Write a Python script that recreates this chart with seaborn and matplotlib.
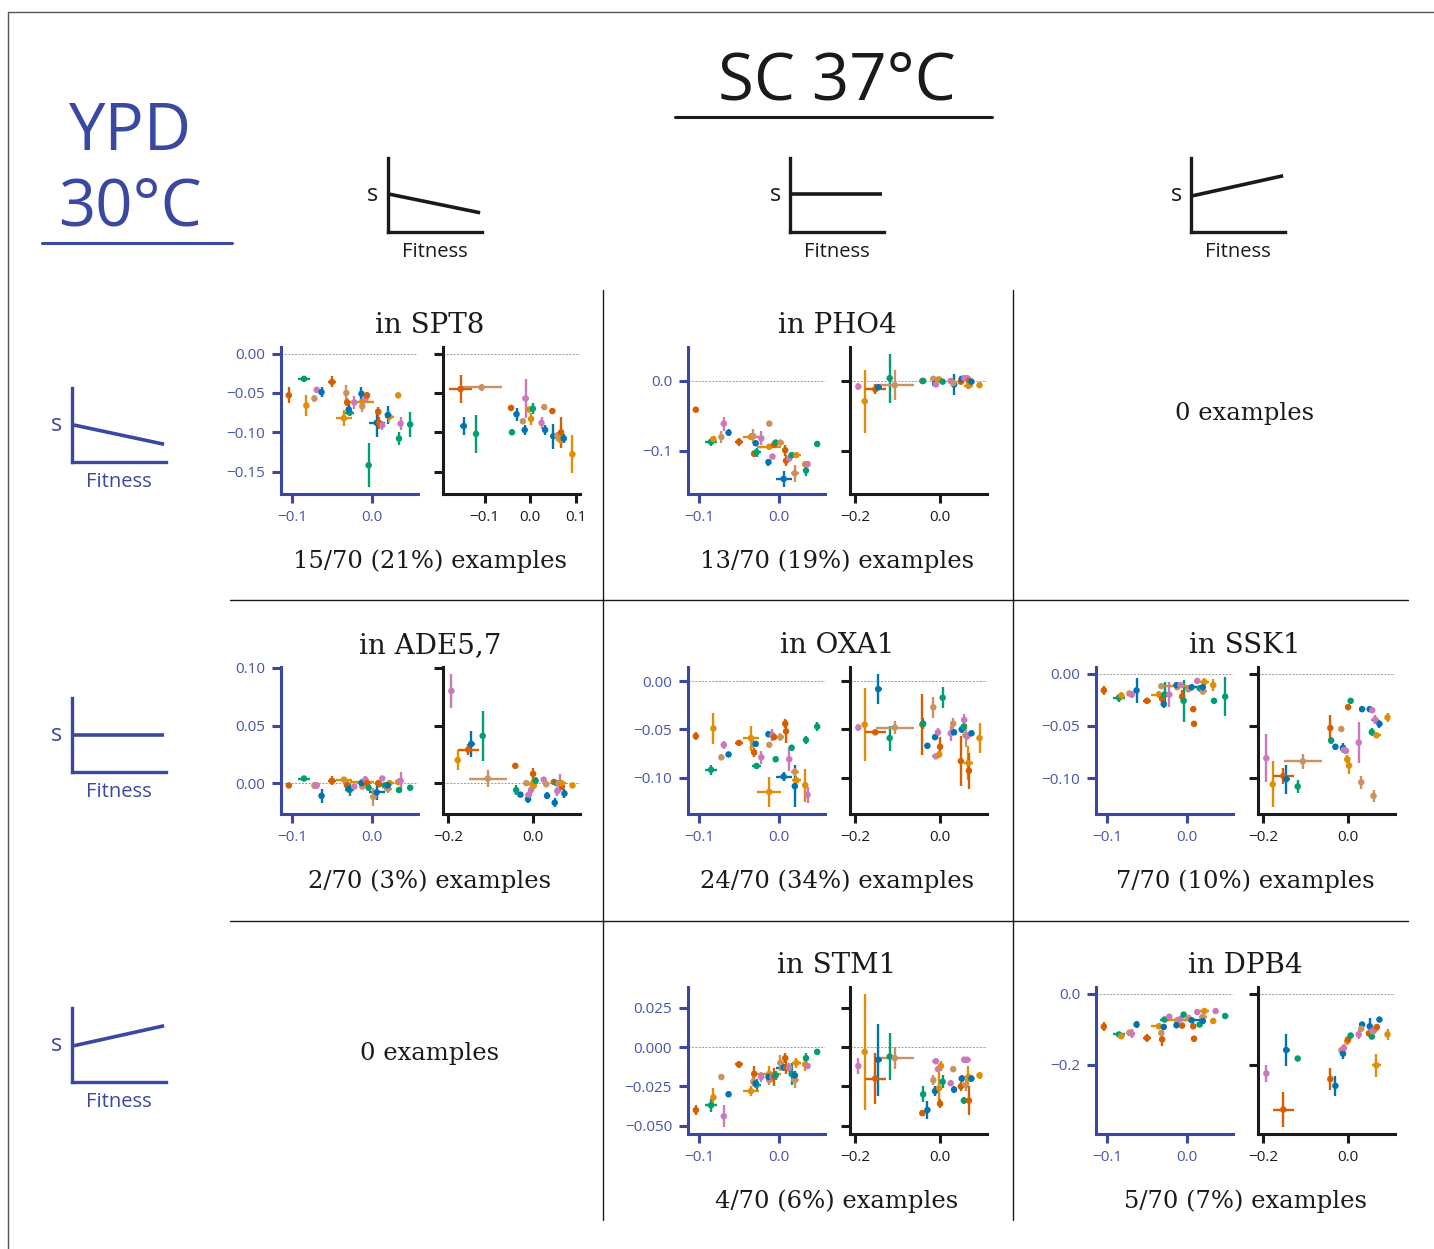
import numpy as np
import pandas as pd
import matplotlib
matplotlib.use("Agg")
import matplotlib.pyplot as plt
import seaborn as sns
from matplotlib.lines import Line2D
from matplotlib.ticker import MultipleLocator

nan = np.nan

# mutants in YPD 30C (left small plots): fitness, error, colour code
ypd_fitness = [-0.104, -0.085, -0.082, -0.072, -0.069, -0.063, -0.050, -0.035, -0.032, -0.031, -0.028,
               -0.029, -0.022, -0.012, -0.012, -0.013, -0.008, -0.006, -0.004, 0.002, 0.006, 0.008,
               0.009, 0.013, 0.016, 0.020, 0.022, 0.020, 0.033, 0.034, 0.036, 0.048]
ypd_fitness_err = [0.002, 0.008, 0.002, 0.003, 0.003, 0.002, 0.005, 0.010, 0.003, 0.002, 0.006,
                   0.002, 0.003, 0.015, 0.002, 0.002, 0.003, 0.002, 0.002, 0.004, 0.010, 0.003,
                   0.002, 0.003, 0.002, 0.005, 0.006, 0.003, 0.003, 0.003, 0.003, 0.002]
ypd_mutant = list("rgotpbrotrgbpotbprgtbrrpgtobogpg")

# mutants in SC 37C (right small plots)
sc_fitness = [-0.193, -0.178, -0.153, -0.146, -0.119, -0.107, -0.042, -0.040, -0.030, -0.016,
              -0.012, -0.010, -0.005, -0.002, 0.000, 0.002, 0.006, 0.025, 0.033, 0.031,
              0.049, 0.051, 0.056, 0.057, 0.060, 0.064, 0.068, 0.067, 0.074, 0.093]
sc_fitness_err = [0.005, 0.003, 0.025, 0.008, 0.003, 0.045, 0.005, 0.003, 0.003, 0.003,
                  0.003, 0.008, 0.003, 0.003, 0.008, 0.004, 0.003, 0.003, 0.003, 0.003,
                  0.003, 0.003, 0.003, 0.003, 0.005, 0.010, 0.002, 0.010, 0.002, 0.003]
sc_mutant = list("porbgtrgbtbpporogpbtrbgptprobo")

# s values per lineage (ypd = left plot, sc = right plot)
spt8_s_ypd = [-0.053, -0.032, -0.066, -0.057, -0.046, -0.049, -0.036, -0.082, -0.050, -0.062, -0.075,
              -0.071, -0.062, -0.061, -0.067, -0.051, -0.057, -0.053, -0.142, nan, -0.088, -0.074,
              -0.088, -0.091, nan, nan, -0.080, -0.078, -0.053, -0.108, -0.089, -0.090]
spt8_e_ypd = [0.010, 0.003, 0.013, 0.005, 0.004, 0.006, 0.007, 0.010, 0.010, 0.005, 0.004,
              0.007, 0.008, 0.003, 0.007, 0.008, 0.006, 0.004, 0.028, nan, 0.018, 0.006,
              0.008, 0.006, nan, nan, 0.007, 0.012, 0.003, 0.008, 0.008, 0.016]
spt8_s_sc = [nan, nan, -0.045, -0.092, -0.102, -0.043, -0.069, -0.100, -0.077, -0.086,
             -0.097, -0.057, nan, -0.071, nan, -0.083, -0.070, -0.088, -0.097, -0.068,
             -0.073, -0.105, nan, nan, -0.105, nan, -0.100, -0.110, -0.108, -0.128]
spt8_e_sc = [nan, nan, 0.018, 0.012, 0.024, 0.004, 0.004, 0.004, 0.008, 0.004,
             0.006, 0.025, nan, 0.003, nan, 0.008, 0.007, 0.008, 0.006, 0.004,
             0.004, 0.016, nan, nan, 0.006, nan, 0.020, 0.008, 0.006, 0.024]

pho4_s_ypd = [-0.041, -0.087, -0.083, -0.080, -0.061, -0.074, -0.087, -0.080, -0.079, -0.104, -0.102,
              -0.089, -0.082, -0.094, -0.061, -0.116, -0.108, -0.091, -0.088, -0.088, -0.140, -0.099,
              -0.114, -0.111, -0.106, -0.132, -0.106, nan, -0.119, -0.128, -0.119, -0.090]
pho4_e_ypd = [0.004, 0.006, 0.005, 0.008, 0.010, 0.005, 0.006, 0.005, 0.010, 0.004, 0.006,
              0.003, 0.010, 0.003, 0.004, 0.005, 0.004, 0.003, 0.004, 0.003, 0.012, 0.008,
              0.008, 0.004, 0.004, 0.012, 0.003, nan, 0.004, 0.008, 0.004, 0.003]
pho4_s_sc = [-0.008, -0.029, -0.012, -0.009, 0.004, -0.006, 0.000, 0.000, nan, 0.003,
             -0.004, -0.005, 0.002, 0.002, nan, nan, -0.001, 0.000, -0.005, -0.003,
             -0.001, 0.003, nan, 0.004, nan, 0.004, 0.000, -0.007, -0.001, -0.006]
pho4_e_sc = [0.005, 0.045, 0.007, 0.003, 0.035, 0.021, 0.002, 0.002, nan, 0.002,
             0.003, 0.003, 0.002, 0.002, nan, nan, 0.002, 0.002, 0.015, 0.002,
             0.002, 0.002, nan, 0.002, nan, 0.002, 0.002, 0.002, 0.002, 0.002]

ade_s_ypd = [-0.002, 0.004, nan, -0.002, -0.002, -0.011, 0.002, 0.003, 0.000, -0.002, -0.006,
             -0.005, -0.003, 0.001, -0.003, 0.000, 0.003, 0.000, -0.004, -0.012, -0.008, 0.000,
             -0.001, 0.004, -0.002, -0.005, 0.000, -0.002, 0.001, -0.006, 0.002, -0.004]
ade_e_ypd = [0.002, 0.002, nan, 0.003, 0.003, 0.006, 0.004, 0.002, 0.002, 0.003, 0.005,
             0.003, 0.002, 0.002, 0.002, 0.002, 0.003, 0.002, 0.003, 0.008, 0.007, 0.002,
             0.002, 0.002, 0.002, 0.004, 0.002, 0.002, 0.002, 0.003, 0.008, 0.002]
ade_s_sc = [0.080, 0.020, 0.029, 0.034, 0.041, 0.004, 0.015, -0.006, -0.010, 0.000,
            -0.014, -0.010, -0.006, -0.001, 0.008, -0.002, 0.002, 0.003, -0.011, -0.001,
            0.001, -0.017, 0.000, -0.007, 0.000, 0.000, -0.003, 0.000, -0.009, -0.002]
ade_e_sc = [0.015, 0.009, 0.005, 0.011, 0.022, 0.007, 0.002, 0.004, 0.002, 0.002,
            0.003, 0.002, 0.003, 0.004, 0.005, 0.003, 0.003, 0.002, 0.003, 0.002,
            0.002, 0.004, 0.002, 0.004, 0.002, 0.008, 0.003, 0.002, 0.004, 0.002]

oxa1_s_ypd = [-0.057, -0.092, -0.049, -0.079, -0.066, -0.076, -0.064, -0.059, -0.065, -0.074, -0.088,
              -0.065, -0.079, -0.115, -0.066, -0.055, -0.056, -0.058, -0.081, -0.058, -0.099, -0.044,
              -0.052, -0.081, -0.069, -0.094, -0.103, -0.109, -0.108, -0.061, -0.118, -0.047]
oxa1_e_ypd = [0.004, 0.005, 0.016, 0.003, 0.004, 0.003, 0.003, 0.013, 0.004, 0.005, 0.003,
              0.003, 0.007, 0.016, 0.002, 0.003, 0.006, 0.003, 0.003, 0.004, 0.005, 0.005,
              0.012, 0.012, 0.003, 0.004, 0.005, 0.022, 0.017, 0.004, 0.008, 0.005]
oxa1_s_sc = [-0.048, -0.045, -0.053, -0.008, -0.059, -0.048, -0.045, -0.044, -0.067, -0.027,
             -0.058, -0.078, -0.053, -0.076, -0.068, nan, -0.017, -0.054, -0.053, -0.044,
             -0.083, -0.050, -0.047, -0.040, -0.056, -0.057, -0.093, -0.085, -0.054, -0.059]
oxa1_e_sc = [0.004, 0.038, 0.002, 0.016, 0.013, 0.007, 0.032, 0.006, 0.003, 0.011,
             0.003, 0.002, 0.004, 0.004, 0.010, nan, 0.011, 0.008, 0.003, 0.006,
             0.026, 0.004, 0.004, 0.006, 0.012, 0.004, 0.019, 0.018, 0.002, 0.016]

ssk1_s_ypd = [-0.016, -0.023, -0.021, -0.019, -0.020, -0.016, -0.026, -0.020, -0.012, -0.024, -0.020,
              -0.029, -0.020, -0.012, -0.013, -0.011, -0.011, -0.022, -0.026, -0.015, -0.013, -0.034,
              -0.048, -0.007, -0.014, -0.017, -0.008, -0.013, -0.011, -0.026, nan, -0.022]
ssk1_e_ypd = [0.004, 0.004, 0.003, 0.002, 0.003, 0.012, 0.002, 0.003, 0.002, 0.003, 0.012,
              0.004, 0.012, 0.002, 0.003, 0.002, 0.002, 0.006, 0.020, 0.003, 0.002, 0.002,
              0.002, 0.002, 0.002, 0.003, 0.004, 0.002, 0.006, 0.003, nan, 0.019]
ssk1_s_sc = [-0.081, -0.106, -0.098, -0.101, -0.108, -0.084, -0.052, -0.064, -0.070, -0.053,
             -0.071, -0.073, -0.074, -0.082, -0.032, -0.088, -0.026, -0.066, -0.034, -0.104,
             nan, -0.034, -0.056, -0.035, -0.117, -0.044, nan, -0.059, -0.048, -0.042]
ssk1_e_sc = [0.023, 0.022, 0.008, 0.014, 0.006, 0.007, 0.012, 0.003, 0.003, 0.002,
             0.005, 0.002, 0.003, 0.004, 0.003, 0.008, 0.003, 0.020, 0.002, 0.006,
             nan, 0.002, 0.004, 0.002, 0.006, 0.004, nan, 0.003, 0.004, 0.004]

stm1_s_ypd = [-0.040, -0.037, -0.032, -0.019, -0.044, -0.030, -0.011, -0.028, -0.022, -0.017, -0.024,
              -0.023, -0.019, -0.017, -0.021, -0.019, -0.019, -0.019, -0.018, -0.010, -0.013, -0.007,
              -0.013, -0.013, -0.017, -0.021, -0.010, -0.018, -0.011, -0.007, -0.012, -0.003]
stm1_e_ypd = [0.003, 0.004, 0.006, 0.002, 0.007, 0.002, 0.002, 0.003, 0.003, 0.005, 0.004,
              0.002, 0.003, 0.005, 0.003, 0.003, 0.003, 0.006, 0.003, 0.005, 0.002, 0.003,
              0.004, 0.003, 0.007, 0.005, 0.003, 0.003, 0.004, 0.003, 0.002, 0.002]
stm1_s_sc = [-0.012, -0.003, -0.020, -0.008, -0.006, -0.007, -0.042, -0.030, -0.040, -0.021,
             -0.028, -0.009, -0.014, -0.026, -0.036, -0.012, -0.022, -0.023, -0.027, -0.014,
             -0.025, -0.020, -0.034, -0.008, -0.024, -0.008, -0.034, -0.019, -0.020, -0.018]
stm1_e_sc = [0.005, 0.037, 0.016, 0.023, 0.015, 0.007, 0.002, 0.005, 0.006, 0.003,
             0.003, 0.002, 0.002, 0.010, 0.003, 0.003, 0.004, 0.002, 0.002, 0.002,
             0.003, 0.002, 0.002, 0.002, 0.004, 0.002, 0.009, 0.007, 0.002, 0.002]

dpb4_s_ypd = [-0.093, -0.115, -0.120, -0.110, -0.113, -0.087, -0.125, -0.092, -0.111, -0.129, -0.073,
              -0.094, -0.065, -0.075, -0.077, -0.089, -0.071, -0.090, -0.059, -0.068, -0.075, -0.092,
              -0.127, -0.052, -0.087, -0.065, -0.049, -0.077, -0.077, nan, -0.049, -0.063]
dpb4_e_ypd = [0.012, 0.008, 0.008, 0.008, 0.012, 0.010, 0.012, 0.008, 0.008, 0.018, 0.006,
              0.008, 0.004, 0.008, 0.006, 0.004, 0.004, 0.008, 0.004, 0.008, 0.004, 0.008,
              0.008, 0.003, 0.004, 0.008, 0.004, 0.008, 0.008, nan, 0.003, 0.008]
dpb4_s_sc = [-0.225, nan, -0.327, -0.159, -0.183, nan, -0.241, nan, -0.260, -0.160,
             -0.169, -0.153, nan, -0.134, -0.129, nan, -0.118, -0.115, -0.087, -0.099,
             -0.112, -0.092, -0.121, -0.106, -0.106, -0.099, -0.094, -0.202, -0.073, -0.115]
dpb4_e_sc = [0.024, nan, 0.050, 0.045, 0.008, nan, 0.030, nan, 0.028, 0.008,
             0.015, 0.010, nan, 0.010, 0.004, nan, 0.006, 0.012, 0.004, 0.004,
             0.005, 0.022, 0.004, 0.008, 0.005, 0.004, 0.005, 0.032, 0.003, 0.015]

panel_titles = ["in SPT8", "in PHO4", "in ADE5,7", "in OXA1", "in SSK1", "in STM1", "in DPB4"]
panel_notes = ["15/70 (21%) examples", "13/70 (19%) examples", "2/70 (3%) examples",
               "24/70 (34%) examples", "7/70 (10%) examples", "4/70 (6%) examples",
               "5/70 (7%) examples"]
panel_data = [(spt8_s_ypd, spt8_e_ypd, spt8_s_sc, spt8_e_sc),
              (pho4_s_ypd, pho4_e_ypd, pho4_s_sc, pho4_e_sc),
              (ade_s_ypd, ade_e_ypd, ade_s_sc, ade_e_sc),
              (oxa1_s_ypd, oxa1_e_ypd, oxa1_s_sc, oxa1_e_sc),
              (ssk1_s_ypd, ssk1_e_ypd, ssk1_s_sc, ssk1_e_sc),
              (stm1_s_ypd, stm1_e_ypd, stm1_s_sc, stm1_e_sc),
              (dpb4_s_ypd, dpb4_e_ypd, dpb4_s_sc, dpb4_e_sc)]
panel_cells = [(0, 0), (0, 1), (1, 0), (1, 1), (1, 2), (2, 1), (2, 2)]
empty_cells = [(0, 2), (2, 0)]
panel_ystep = [0.05, 0.1, 0.05, 0.05, 0.05, 0.025, 0.2]
panel_xstep_sc = [0.1, 0.2, 0.2, 0.2, 0.2, 0.2, 0.2]

# ---- style ----
sns.set_theme(style="ticks")
plt.rcParams["font.family"] = ["Open Sans", "DejaVu Sans"]
cb = sns.color_palette("colorblind")
mut_palette = {"b": cb[0], "o": cb[1], "g": cb[2], "r": cb[3], "p": cb[4], "t": cb[5]}
BLUE = "#3a48a2"
BLUE_TXT = "#4654ab"
INK = "#1a1a1a"
SERIF = "DejaVu Serif"

W, H = 1434, 1249
fig = plt.figure(figsize=(W / 100, H / 100), dpi=100)
fig.patch.set_facecolor("white")


def fx(x):
    return x / W


def fy(y):
    return 1 - y / H


def rect(x0, y0, x1, y1):
    return [x0 / W, 1 - y1 / H, (x1 - x0) / W, (y1 - y0) / H]


def hline(x0, x1, y, color, lw):
    fig.add_artist(Line2D([fx(x0), fx(x1)], [fy(y), fy(y)], color=color, lw=lw,
                          transform=fig.transFigure))


def vline(x, y0, y1, color, lw):
    fig.add_artist(Line2D([fx(x), fx(x)], [fy(y0), fy(y1)], color=color, lw=lw,
                          transform=fig.transFigure))


def sketch(x0, y0, line_y, color):
    ax = fig.add_axes(rect(x0, y0, x0 + 94, y0 + 74))
    ax.set_xlim(0, 1)
    ax.set_ylim(0, 1)
    ax.plot([0.02, 0.98], line_y, color=color, lw=2.6, solid_capstyle="butt")
    sns.despine(ax=ax)
    for sp in ["left", "bottom"]:
        ax.spines[sp].set_color(color)
        ax.spines[sp].set_linewidth(2.4)
    ax.set_xticks([])
    ax.set_yticks([])
    ax.patch.set_alpha(0)
    fig.text(fx(x0 - 15), fy(y0 + 37), "s", ha="center", va="center", fontsize=17, color=color)
    fig.text(fx(x0 + 47), fy(y0 + 94), "Fitness", ha="center", va="center", fontsize=14.5, color=color)


def draw_side(ax, fit, fit_err, s, s_err, mutant):
    df = pd.DataFrame({"fit": fit, "fit_err": fit_err, "s": s, "s_err": s_err, "mut": mutant}).dropna()
    for name, g in df.groupby("mut"):
        ax.errorbar(g["fit"], g["s"], xerr=g["fit_err"], yerr=g["s_err"], fmt="none",
                    ecolor=mut_palette[name], elinewidth=1.7, capsize=0, zorder=2)
    sns.scatterplot(data=df, x="fit", y="s", hue="mut", palette=mut_palette, s=22,
                    linewidth=0, legend=False, ax=ax, zorder=3)
    ax.axhline(0, color="#9a9a9a", lw=0.7, ls=(0, (2, 1.5)), zorder=1)
    ax.set_xlabel("")
    ax.set_ylabel("")
    sns.despine(ax=ax)


# ---- frame and header ----
hline(8, W, 12, "#555555", 1.0)
vline(8, 12, H, "#555555", 1.0)

fig.text(fx(837), fy(100), "SC 37°C", ha="center", va="baseline", fontsize=47, color=INK)
hline(675, 992, 117, INK, 2.2)
fig.text(fx(130), fy(150), "YPD", ha="center", va="baseline", fontsize=47, color=BLUE)
fig.text(fx(130), fy(226), "30°C", ha="center", va="baseline", fontsize=47, color=BLUE)
hline(42, 232, 243, BLUE, 2.2)

sketch(388, 158, [0.51, 0.26], INK)
sketch(790, 158, [0.51, 0.51], INK)
sketch(1191, 158, [0.49, 0.76], INK)
sketch(72, 388, [0.50, 0.24], BLUE)
sketch(72, 698, [0.50, 0.50], BLUE)
sketch(72, 1008, [0.49, 0.76], BLUE)

# grid dividers
vline(603, 290, 1220, INK, 1.0)
vline(1013, 290, 1220, INK, 1.0)
hline(230, 1408, 600, INK, 1.0)
hline(230, 1408, 921, INK, 1.0)

col_center = [430, 837, 1245]
row_shift = [0, 320, 640]

for (r, c), title, note, data, ystep, xstep in zip(panel_cells, panel_titles, panel_notes,
                                                    panel_data, panel_ystep, panel_xstep_sc):
    cx = col_center[c]
    dy = row_shift[r]
    ax_l = fig.add_axes(rect(cx - 149, 347 + dy, cx - 12, 494 + dy))
    ax_r = fig.add_axes(rect(cx + 13, 347 + dy, cx + 150, 494 + dy), sharey=ax_l)
    s_ypd, e_ypd, s_sc, e_sc = data
    draw_side(ax_l, ypd_fitness, ypd_fitness_err, s_ypd, e_ypd, ypd_mutant)
    draw_side(ax_r, sc_fitness, sc_fitness_err, s_sc, e_sc, sc_mutant)

    ax_l.xaxis.set_major_locator(MultipleLocator(0.1))
    ax_l.yaxis.set_major_locator(MultipleLocator(ystep))
    ax_r.xaxis.set_major_locator(MultipleLocator(xstep))
    ax_r.tick_params(labelleft=False)

    for ax, colr, tcol in [(ax_l, BLUE, BLUE_TXT), (ax_r, INK, INK)]:
        for sp in ["left", "bottom"]:
            ax.spines[sp].set_color(colr)
            ax.spines[sp].set_linewidth(2.2)
        ax.tick_params(color=colr, labelcolor=tcol, width=2.2, length=6.5, labelsize=11, pad=5)

    fig.text(fx(cx), fy(333 + dy), title, ha="center", va="baseline",
             fontsize=20, family=SERIF, color=INK)
    fig.text(fx(cx), fy(568 + dy), note, ha="center", va="baseline",
             fontsize=17.5, family=SERIF, color=INK)

for r, c in empty_cells:
    base = 420 if r == 0 else 1060
    fig.text(fx(col_center[c]), fy(base), "0 examples", ha="center", va="baseline",
             fontsize=17.5, family=SERIF, color=INK)

fig.savefig("out.png", dpi=100)
